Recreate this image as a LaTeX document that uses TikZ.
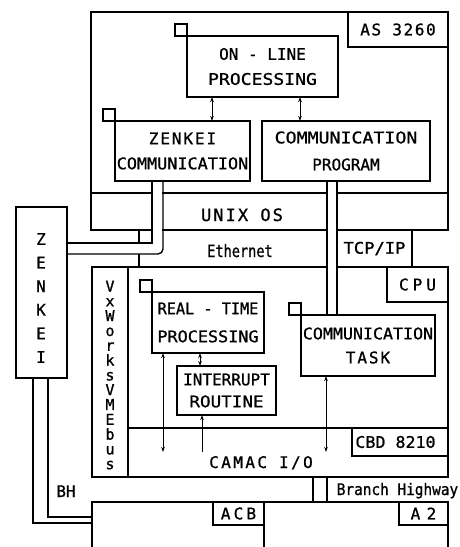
\documentclass[tikz,border=0pt]{standalone}
\usepackage{fontspec}
\setmainfont{DejaVu Sans Mono}[FakeBold=1]
\usetikzlibrary{arrows.meta}
\newcommand{\hs}[2]{\scalebox{#1}[1]{#2}}
\begin{document}
\begin{tikzpicture}[x=1pt,y=-1pt,
  line/.style={line width=1.4pt},
  box/.style={draw, line width=1.4pt, inner sep=0pt, outer sep=0pt, align=center,
    font=\fontsize{16}{25}\selectfont},
  sq/.style={draw, line width=1.2pt, inner sep=0pt, outer sep=0pt, minimum size=12pt},
  lbl/.style={inner sep=0pt, font=\fontsize{16}{20}\selectfont},
  tip/.style={line width=1pt, {Stealth[length=5pt,width=3.5pt]}-{Stealth[length=5pt,width=3.5pt]}},
  uptip/.style={line width=1pt, {Stealth[length=5pt,width=3.5pt]}-}
]
\useasboundingbox (0,0) rectangle (460,547);

% guide coordinates
\coordinate (zpl) at (152,0);
\coordinate (zpr) at (163,0);
\coordinate (cpl) at (327,0);
\coordinate (cpr) at (337,0);
\coordinate (zup) at (0,243);
\coordinate (zlow) at (0,254);
\coordinate (unixtop) at (0,193);
\coordinate (col) at (128,0);
\coordinate (camtop) at (0,428);
\coordinate (camin) at (0,452);
\coordinate (bhl) at (313,0);
\coordinate (bhr) at (327,0);
\coordinate (bo) at (33,523);
\coordinate (bi) at (48,517);
\coordinate (a1) at (212,0);
\coordinate (a2) at (300,0);
\coordinate (a3) at (200,0);
\coordinate (a4) at (163,0);
\coordinate (a5) at (202,0);
\coordinate (a6) at (326,0);

% host computer
\node[box, minimum width=357, minimum height=218] (host) at (269.5,121) {};
\draw[line] (host.west |- unixtop) -- (host.east |- unixtop);
\node[box, minimum width=100, minimum height=35] (as) at (398,29.5)
  {{\addfontfeature{LetterSpace=10}AS 3260}};
\node[box, minimum width=151, minimum height=61] (online) at (262.5,66.5)
  {ON - LINE\\\hs{1.13}{PROCESSING}};
\node[sq, anchor=south east] at (online.north west) {};
\node[box, minimum width=135, minimum height=60] (zcomm) at (182.5,151)
  {{\addfontfeature{LetterSpace=12}ZENKEI}\\\hs{1.05}{COMMUNICATION}};
\node[sq, anchor=south east] at (zcomm.north west) {};
\node[box, minimum width=168, minimum height=60, font=\fontsize{16}{27}\selectfont] (cprog) at (346,151)
  {\hs{1.14}{COMMUNICATION}\\PROGRAM};
\node[lbl, anchor=base, font=\fontsize{17}{20}\selectfont] (unix) at (242,221)
  {{\addfontfeature{LetterSpace=12}UNIX OS}};
\node[lbl, anchor=base, font=\fontsize{17}{20}\selectfont] (eth) at (240,257) {\hs{0.8}{Ethernet}};
\node[box, minimum width=75, minimum height=37] (tcp) at (374.5,248.5) {\hs{1.07}{TCP/IP}};

% VME crate
\node[box, minimum width=356, minimum height=210] (vme) at (270,372) {};
\node[box, minimum width=61, minimum height=35] (cpu) at (417.5,284.5)
  {{\addfontfeature{LetterSpace=25}CPU}};
\draw[line] (vme.north -| col) -- (vme.south -| col);
\draw[line] (col |- camtop) -- (vme.east |- camtop);
\node[lbl, align=center, font=\fontsize{15}{14.8}\selectfont] (vx) at (110,375)
  {V\\x\\W\\o\\r\\k\\s\\V\\M\\E\\b\\u\\s};
\node[box, minimum width=112, minimum height=61, font=\fontsize{16}{28}\selectfont] (rt) at (208,322.5)
  {\hs{0.95}{REAL - TIME}\\\hs{1.05}{PROCESSING}};
\node[sq, anchor=south east] at (rt.north west) {};
\node[box, minimum width=99, minimum height=49, font=\fontsize{16}{22}\selectfont] (intr) at (226.5,390.5)
  {INTERRUPT\\\hs{1.1}{ROUTINE}};
\node[box, minimum width=134, minimum height=61, font=\fontsize{16}{24}\selectfont] (ctask) at (368,345.5)
  {\hs{1.04}{COMMUNICATION}\\{\addfontfeature{LetterSpace=12}TASK}};
\node[sq, anchor=south east] at (ctask.north west) {};
\node[box, minimum width=96, minimum height=28] (cbd) at (400,442)
  {\hs{1.04}{CBD 8210}\hspace*{9pt}};
\node[lbl, anchor=base] (camac) at (261,468) {{\addfontfeature{LetterSpace=15}CAMAC I/O}};

% arrows
\draw[tip] (online.south -| a1) -- (zcomm.north -| a1);
\draw[tip] (online.south -| a2) -- (cprog.north -| a2);
\draw[tip] (rt.south -| a3) -- (intr.north -| a3);
\draw[tip] (rt.south -| a4) -- (a4 |- camin);
\draw[uptip] (intr.south -| a5) -- (a5 |- camin);
\draw[tip] (ctask.south -| a6) -- (a6 |- camin);

% ZENKEI unit
\node[box, minimum width=51, minimum height=171] (zenkei) at (41.5,292.5) {};
\node[lbl, align=center, font=\fontsize{16}{23.6}\selectfont] (zk) at (41,298) {Z\\E\\N\\K\\E\\I};

% ZENKEI link to the host
\fill[white] (152.7,182) rectangle (162.3,253.3);
\draw[line] (zcomm.south -| zpl) -- (zpl |- host.south);
\draw[line, rounded corners=5pt] (zcomm.south -| zpr) -- (zpr |- zlow) -- (zenkei.east |- zlow);
\node[sq, minimum size=13pt, anchor=north east] (zsq) at (host.south -| zpl) {};
\draw[line] (zenkei.east |- zup) -- (zsq.south west);
\draw[line] (zsq.south west |- zlow) -- (zsq.south west |- vme.north);

% host to VME link
\fill[white] (327.7,182) rectangle (336.3,314.3);
\draw[line] (cprog.south -| cpl) -- (ctask.north -| cpl);
\draw[line] (cprog.south -| cpr) -- (ctask.north -| cpr);

% CAMAC crate and branch highway
\node[box, minimum width=356, minimum height=60] (crate) at (270,532) {};
\draw[line] (vme.south -| bhl) -- (crate.north -| bhl);
\draw[line] (vme.south -| bhr) -- (crate.north -| bhr);
\node[lbl, anchor=base] (bhw) at (397.5,495) {\hs{0.9}{Branch Highway}};
\node[box, minimum width=51, minimum height=23] (acb) at (238.5,513.5)
  {{\addfontfeature{LetterSpace=20}ACB}};
\draw[line] (acb.south east) -- (acb.east |- crate.south);
\node[box, minimum width=49, minimum height=23] (a2) at (423.5,513.5)
  {{\addfontfeature{LetterSpace=40}A2}};

% BH link from ZENKEI
\draw[line] (zenkei.south -| bo) -- (bo) -- (bo -| crate.west);
\draw[line] (zenkei.south -| bi) -- (bi) -- (bi -| crate.west);
\node[lbl, anchor=base] (bh) at (66,497) {BH};
\end{tikzpicture}
\end{document}
